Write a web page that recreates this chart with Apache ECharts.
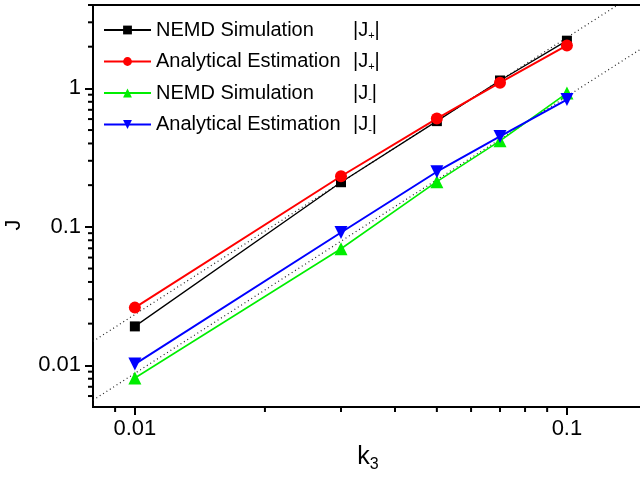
<!DOCTYPE html>
<html>
<head>
<meta charset="utf-8">
<script src="https://cdn.jsdelivr.net/npm/echarts@6/dist/echarts.min.js"></script>
<style>html,body{margin:0;padding:0;background:#fff;}#c{width:640px;height:478px;}</style>
</head>
<body>
<div id="c"></div>
<script>
// ---- data ----
const k3 = [0.01, 0.03, 0.05, 0.07, 0.1];
const nemdJplus = [0.0191, 0.21, 0.58, 1.14, 2.21];
const anaJplus = [0.0261, 0.232, 0.605, 1.10, 2.04];
const nemdJminus = [0.0081, 0.0695, 0.212, 0.418, 0.925];
const anaJminus = [0.0102, 0.091, 0.25, 0.45, 0.83];
const fitK = [0.008, 0.15];
const fitJplus = [0.0149, 5.24];
const fitJminus = [0.0056, 1.97];
const seriesLabels = ['NEMD Simulation', 'Analytical Estimation', 'NEMD Simulation', 'Analytical Estimation'];
const seriesSubs = ['+', '+', '-', '-'];
const xMin = 0.008, xMax = 0.15, yMin = 0.005, yMax = 4;
const xMinorTicks = [0.009, 0.02, 0.03, 0.04, 0.05, 0.06, 0.07, 0.08, 0.09];
const yMinorTicks = [0.006, 0.007, 0.008, 0.009, 0.02, 0.03, 0.04, 0.05, 0.06, 0.07, 0.08, 0.09,
  0.2, 0.3, 0.4, 0.5, 0.6, 0.7, 0.8, 0.9, 2, 3, 4];

const FONT = '"Liberation Sans", Arial, sans-serif';
const names = seriesLabels.map((l, i) => l + ' |J' + seriesSubs[i] + '|');
const pairs = (xs, ys) => xs.map((x, i) => [x, ys[i]]);

const chart = echarts.init(document.getElementById('c'), null, {renderer: 'canvas'});

function mkSeries(i, ys, color, symbol, size, width, rotate) {
  return {
    type: 'line', name: names[i], data: pairs(k3, ys),
    symbol: symbol, symbolSize: size, symbolRotate: rotate || 0,
    itemStyle: {color: color}, lineStyle: {color: color, width: width},
    z: 5, animation: false
  };
}

const option = {
  animation: false,
  backgroundColor: '#fff',
  grid: {left: 93, top: 5, right: -3, bottom: 71, containLabel: false, outerBoundsMode: 'none',
    show: true, borderColor: '#000', borderWidth: 2, backgroundColor: 'transparent'},
  legend: {
    orient: 'vertical', left: 103, top: 20, padding: 0, itemWidth: 47, itemHeight: 11, itemGap: 10.5,
    data: names,
    formatter: function (name) {
      const i = names.indexOf(name);
      return '{a|' + seriesLabels[i] + '}{b||J}{s|' + seriesSubs[i] + '}{b||}';
    },
    textStyle: {
      color: '#000', fontFamily: FONT, fontSize: 20,
      rich: {
        a: {fontSize: 20, width: 197, lineHeight: 22, fontFamily: FONT, color: '#000'},
        b: {fontSize: 20, lineHeight: 22, fontFamily: FONT, color: '#000'},
        s: {fontSize: 11, lineHeight: 22, verticalAlign: 'bottom', fontFamily: FONT, color: '#000', padding: [8, 0, 0, 0]}
      }
    }
  },
  xAxis: {
    type: 'log', logBase: 10, min: xMin, max: xMax,
    name: '{k|k}{s|3}', nameLocation: 'middle', nameGap: 37,
    nameTextStyle: {rich: {
      k: {fontSize: 25, fontFamily: FONT, color: '#000', lineHeight: 25, verticalAlign: 'top'},
      s: {fontSize: 16, fontFamily: FONT, color: '#000', lineHeight: 16, verticalAlign: 'top', padding: [12, 0, 0, 0]}
    }},
    axisLine: {show: true, lineStyle: {color: '#000', width: 2}},
    axisTick: {show: true, inside: false, length: 8, lineStyle: {color: '#000', width: 2}},
    axisLabel: {color: '#000', fontSize: 22, fontFamily: FONT, margin: 11, showMinLabel: false, showMaxLabel: false},
    splitLine: {show: false}, minorTick: {show: false}
  },
  yAxis: {
    type: 'log', logBase: 10, min: yMin, max: yMax,
    name: 'J', nameLocation: 'middle', nameGap: 68, nameRotate: 90,
    nameTextStyle: {fontSize: 22, fontFamily: FONT, color: '#000', padding: [0, 38, 0, 0]},
    axisLine: {show: true, lineStyle: {color: '#000', width: 2}},
    axisTick: {show: true, inside: false, length: 8, lineStyle: {color: '#000', width: 2}},
    axisLabel: {color: '#000', fontSize: 22, fontFamily: FONT, margin: 12, showMinLabel: false, showMaxLabel: false},
    splitLine: {show: false}, minorTick: {show: false}
  },
  series: [
    {type: 'line', data: pairs(fitK, fitJplus), symbol: 'none', lineStyle: {color: '#222', width: 1.2, type: [1, 3]}, z: 2, silent: true, clip: true},
    {type: 'line', data: pairs(fitK, fitJminus), symbol: 'none', lineStyle: {color: '#222', width: 1.2, type: [1, 3]}, z: 2, silent: true, clip: true},
    mkSeries(0, nemdJplus, '#000000', 'rect', 10, 1.3),
    mkSeries(1, anaJplus, '#ff0000', 'circle', 12, 2),
    mkSeries(2, nemdJminus, '#00ee00', 'triangle', 13, 1.6),
    mkSeries(3, anaJminus, '#0000ff', 'triangle', 13, 2, 180),
    {
      type: 'custom', silent: true, clip: false, z: 10,
      data: xMinorTicks.map(v => [v, yMin]),
      renderItem: function (params, api) {
        const p = api.coord([api.value(0), api.value(1)]);
        return {type: 'line', shape: {x1: p[0], y1: p[1], x2: p[0], y2: p[1] + 5}, style: {stroke: '#000', lineWidth: 2}};
      }
    },
    {
      type: 'custom', silent: true, clip: false, z: 10,
      data: yMinorTicks.map(v => [xMin, v]),
      renderItem: function (params, api) {
        const p = api.coord([api.value(0), api.value(1)]);
        return {type: 'line', shape: {x1: p[0], y1: p[1], x2: p[0] - 5, y2: p[1]}, style: {stroke: '#000', lineWidth: 2}};
      }
    }
  ]
};
chart.setOption(option);
</script>
</body>
</html>
